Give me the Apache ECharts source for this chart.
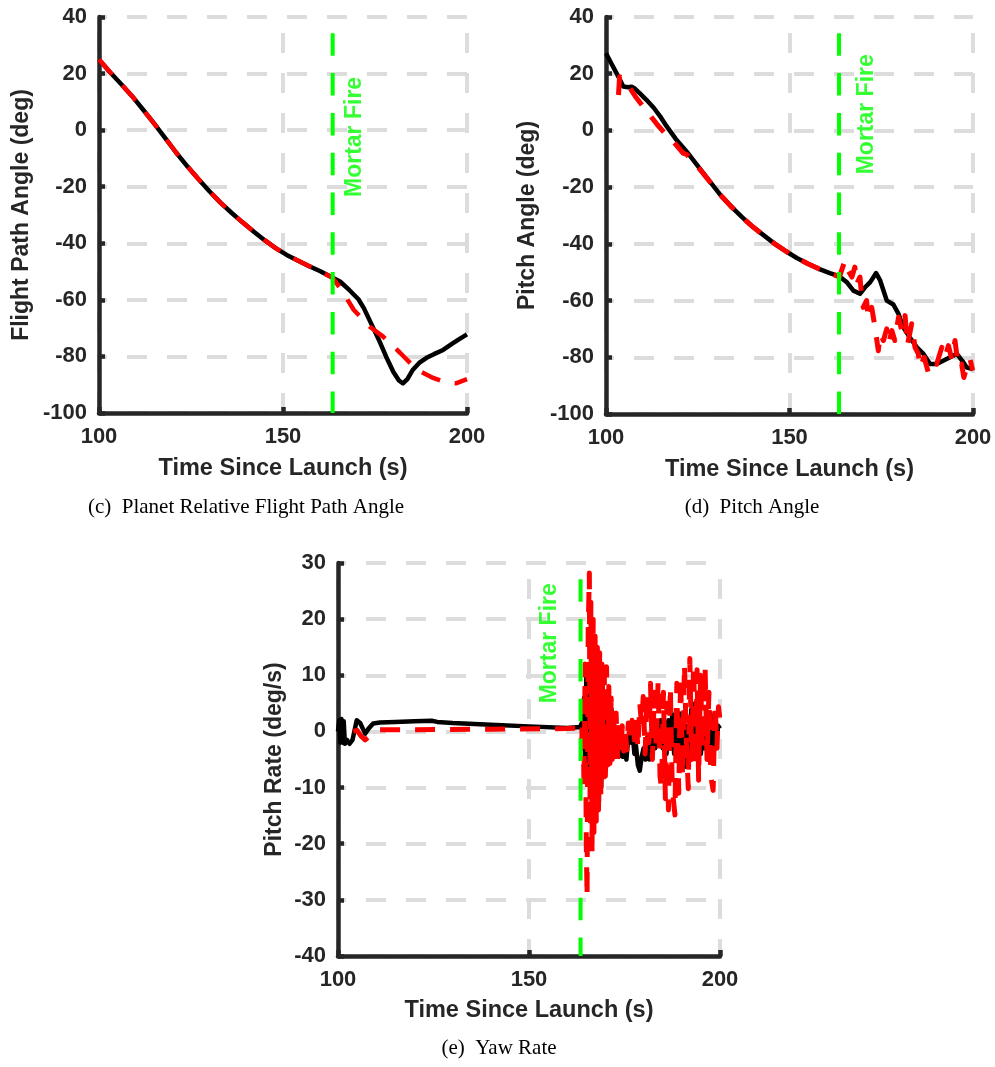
<!DOCTYPE html>
<html>
<head>
<meta charset="utf-8">
<script src="https://cdn.jsdelivr.net/npm/echarts@6/dist/echarts.min.js"></script>
<style>
html,body{margin:0;padding:0;background:#fff;}
#chart{width:995px;height:1067px;}
</style>
</head>
<body>
<div id="chart"></div>
<script>
// ---------- DATA ----------
const mortarFireTime = 163.5;
const xTicks = [100, 150, 200];

// (c) Planet Relative Flight Path Angle
const cSim = [[100,25],[103,20.5],[106,16.3],[109,12],[112,7.2],[115,2.3],[118,-2.8],[121,-8],[124,-12.8],[127,-17.3],[130,-21.6],[133,-25.6],[136,-29.2],[139,-32.6],[142,-35.8],[145,-38.9],[148,-41.7],[151,-44.1],[154,-46.1],[157,-48],[160,-49.8],[163.5,-52.2],[165.5,-53.5],[168,-56.5],[170.5,-59.8],[172,-63],[174,-68.5],[176,-74],[178,-80],[180,-85.5],[181.5,-88.5],[182.6,-89.5],[183.8,-88],[185.3,-84.7],[187,-82.3],[189,-80.5],[191,-79.2],[193.5,-77.7],[196,-75.5],[198,-73.8],[200,-72.2]];
const cRef = [[100,25],[103,20.5],[106,16.3],[109,12],[112,7.2],[115,2.3],[118,-2.8],[121,-8],[124,-12.8],[127,-17.3],[130,-21.6],[133,-25.6],[136,-29.2],[139,-32.6],[142,-35.8],[145,-38.9],[148,-41.7],[151,-44.1],[154,-46.1],[157,-48],[160,-49.8],[163.5,-52.2],[166.4,-57.5],[169.2,-63.5],[173.6,-69.5],[177.2,-73],[181.8,-78.7],[186.4,-84.7],[190.8,-87.6],[194.6,-89.4],[197,-89.5],[200,-88]];

// (d) Pitch Angle
const dSim = [[100,27.2],[101.5,23.5],[103.4,18.9],[104.7,15.5],[106,15.2],[107,15.4],[108,14.6],[109.3,13],[111,10.8],[113,8],[115,4.5],[116.5,1.5],[119,-3],[122,-7.5],[125,-12.5],[128,-17.5],[131,-22.5],[134,-26.7],[137,-30.5],[140,-34],[143,-37],[146,-40],[149,-42.6],[152,-45],[155,-47],[158,-48.8],[161,-50.3],[163.6,-51.5],[165.6,-53.5],[167.4,-56.5],[169.2,-57.6],[170.6,-55.3],[172,-53.5],[173.6,-50.3],[174.7,-52.9],[176.5,-60],[178.3,-61.4],[179.7,-64.7],[181,-69.4],[182.8,-73],[184.7,-76.5],[186.5,-78.8],[188.3,-82.4],[190.1,-82.4],[192.8,-80.6],[195.6,-78.8],[197.4,-81.8],[198.3,-83.6],[200,-84.2]];
const dRef = [[103.4,12.5],[103.7,18.9],[104.8,18.5],[106,16],[108,12],[110.2,8.3],[112,5.3],[114,2],[116,-1],[118.4,-4],[121,-8],[122,-8.5],[125,-12.8],[128,-17.6],[131,-22.5],[134,-26.7],[137,-30.5],[140,-34],[143,-37],[146,-40],[149,-42.6],[152,-45],[155,-47],[158,-48.8],[161,-50.3],[163.6,-51.7],[165.1,-45.9],[166,-49.4],[167,-51.7],[167.8,-48.2],[168.3,-54.1],[169.2,-51.7],[169.6,-57.6],[170.1,-62.4],[171,-60],[171.5,-66.5],[172.4,-62.4],[173.3,-69.4],[174.2,-77.7],[174.7,-71.8],[175.6,-74.1],[176.5,-70],[177,-75.3],[177.9,-70.6],[178.7,-74.1],[179.7,-65.9],[180.6,-70.6],[181.5,-65.3],[182.1,-75.9],[183.3,-68.2],[184.2,-76.5],[185.1,-78.8],[185.6,-83.6],[186.7,-80],[187.8,-85.3],[188.7,-81.8],[190.1,-82.4],[191.5,-76.5],[192.4,-80],[193.3,-75.9],[194.2,-80.6],[195.1,-74.1],[196,-83.6],[196.9,-82.4],[197.5,-87.1],[198.3,-83.6],[199.2,-80.6],[199.9,-84.7]];

// (e) Yaw Rate
const eSim = [[100,0],[100.3,2],[100.6,-2],[100.9,2.2],[101.2,-2],[101.5,1.8],[101.8,-2.2],[102.3,-1.5],[103,-2.2],[103.8,-1.5],[104.9,2],[105.8,1.5],[107.1,-0.4],[108,0.5],[109.2,1.4],[111,1.6],[115,1.7],[120,1.8],[124.5,1.9],[126,1.7],[130,1.5],[140,1.2],[150,0.9],[160,0.6],[163.4,0.8],[163.8,1.5],[164.1,-3],[164.4,6],[164.7,-6],[165,9.5],[165.3,-8],[165.6,10],[165.9,-9],[166.2,9],[166.5,-10],[166.8,8],[167.1,-11],[167.4,8.5],[167.7,-9],[168,9],[168.3,-12.5],[168.6,7],[168.9,-10],[169.2,9.5],[169.5,-8],[169.8,7],[170.1,-7],[170.4,6],[170.7,-5],[171,5],[171.3,-4],[171.6,4],[171.9,-3.5],[172.2,2],[172.6,-3],[173,-1],[173.5,-4.5],[174,-2],[174.5,-4.5],[175,-3],[175.5,-5],[176,-1],[176.4,0.5],[176.8,-2],[177.2,-1],[177.6,-4],[178,-2.5],[178.5,-6],[179,-7],[179.5,-4.5],[180,-3],[180.5,-5],[181,-1],[181.5,-5],[182,-2],[182.5,0.5],[183,-3],[183.5,1],[184,-2],[184.5,2],[185,-3],[185.5,1.5],[186,-4],[186.5,2],[187,-3],[187.5,3],[188,-4],[188.5,3.5],[189,-3],[189.5,3.2],[190,-5],[190.5,2],[191,-6.3],[191.5,1],[192,-5],[192.5,4],[193,-2],[193.5,5],[194,-1],[194.5,3],[195,-4],[195.5,2],[196,-3],[196.5,3.5],[197,-2],[197.5,3.2],[198,-4],[198.5,2],[199,-2.5],[199.5,1],[200,0.5]];
const eRef = [[104,0],[105,0.2],[106,-0.8],[107.1,-1.5],[108,-1],[109.5,0],[111,0.3],[120,0.3],[140,0.4],[160,0.5],[163.4,0.6],[163.8,-2],[164.1,5],[164.4,-10],[164.7,12],[165,-20],[165.2,-29.5],[165.5,18],[165.8,28.2],[166,-16],[166.2,23],[166.5,-22],[166.8,20],[167,-18],[167.3,17],[167.6,-16],[167.9,15],[168.2,-14],[168.5,14],[168.8,-12],[169.1,12],[169.4,-9],[169.7,11],[170,-8],[170.3,11.5],[170.6,-6],[170.9,8],[171.2,-5.7],[171.5,6],[171.8,-5],[172.1,4],[172.4,-4.5],[172.8,3.3],[173.2,-5],[173.6,2],[174,-4],[174.4,1],[174.8,-3.5],[175.2,0.5],[175.6,-3.3],[176,1.5],[176.5,-2],[177,2],[177.5,-1.5],[178,3],[178.5,-3],[179,5],[179.5,1],[179.9,6.2],[180.4,-4],[180.9,7],[181.4,-2],[181.8,8.6],[182.3,-5],[182.8,7],[183.3,-3],[183.8,9],[184.3,-8],[184.7,-10.2],[185.2,7],[185.7,-12],[186.1,5],[186.5,-14],[187,8],[187.5,-10],[188.2,-14.9],[188.7,8.6],[189.2,-11],[189.7,10],[190.2,-8],[190.7,12],[191.2,-2],[191.7,-10.2],[192.1,13],[192.6,-5],[193.1,12],[193.6,-6],[194,11],[194.4,-8.7],[194.9,10],[195.4,-3],[196.1,11.3],[196.6,-5],[197.1,7],[197.6,-8],[198.2,-10.5],[198.7,5],[199.2,-3],[199.6,4.4],[200,2]];

// axis ranges / labels
const cdYRange = [-100, 40, 20];
const eYRange = [-40, 30, 10];
const xTitle = 'Time Since Launch (s)';
const yTitles = ['Flight Path Angle (deg)', 'Pitch Angle (deg)', 'Pitch Rate (deg/s)'];
const captions = ['(c)  Planet Relative Flight Path Angle', '(d)  Pitch Angle', '(e)  Yaw Rate'];
const mortarLabel = 'Mortar Fire';
// label anchor points (data coords) for "Mortar Fire"
const mortarTextPos = [[169.6, -2.4], [171.1, 5.7], [155.5, 15.7]];

// ---------- STYLE ----------
const AX = '#262626';
const FONT = 'Liberation Sans, Arial, Helvetica, sans-serif';
const SERIF = 'Liberation Serif, Times New Roman, serif';
const GRIDC = '#dcdcdc';

const grids = [
  {left: 99, top: 17, width: 368, height: 396},
  {left: 606, top: 17, width: 367, height: 397},
  {left: 338, top: 563, width: 382, height: 393}
];
const yNameGaps = [65.5, 66.5, 51.5];
const xNameGaps = [43.5, 43.5, 42.5];

function xAxisFor(i) {
  return {
    gridIndex: i, type: 'value', min: xTicks[0], max: xTicks[2], interval: 50,
    name: xTitle, nameLocation: 'middle', nameGap: xNameGaps[i],
    nameTextStyle: {fontFamily: FONT, fontWeight: 'bold', fontSize: 23.5, color: AX},
    axisLine: {show: true, onZero: false, lineStyle: {color: AX, width: 4.5}},
    axisTick: {show: true, inside: true, length: 6, lineStyle: {color: AX, width: 4.5}},
    axisLabel: {fontFamily: FONT, fontWeight: 'bold', fontSize: 22, color: AX, margin: 13},
    splitLine: {show: true, lineStyle: {color: GRIDC, width: 4, type: [20, 20], dashOffset: 24}}
  };
}
function yAxisFor(i, r) {
  return {
    gridIndex: i, type: 'value', min: r[0], max: r[1], interval: r[2],
    name: yTitles[i], nameLocation: 'middle', nameGap: yNameGaps[i],
    nameTextStyle: {fontFamily: FONT, fontWeight: 'bold', fontSize: 23, color: AX},
    axisLine: {show: true, onZero: false, lineStyle: {color: AX, width: 4.5}},
    axisTick: {show: true, inside: true, length: 6, lineStyle: {color: AX, width: 4.5}},
    axisLabel: {fontFamily: FONT, fontWeight: 'bold', fontSize: 22, color: AX, margin: 12},
    splitLine: {show: true, lineStyle: {color: GRIDC, width: 4, type: [20, 20], dashOffset: 12}}
  };
}

function lineSeries(i, data, color, dashed, width) {
  return {
    type: 'line', xAxisIndex: i, yAxisIndex: i, data: data, symbol: 'none',
    showSymbol: false, z: dashed ? 3 : 2, clip: true,
    lineStyle: {color: color, width: width, type: dashed ? [20, 15] : 'solid', join: 'round'}
  };
}
function mortarLine(i, r) {
  return {
    type: 'line', xAxisIndex: i, yAxisIndex: i, symbol: 'none', z: 5,
    data: [[mortarFireTime, r[1]], [mortarFireTime, r[0]]],
    lineStyle: {color: '#00ff00', width: 4, type: [22.5, 17.3], dashOffset: 23.5}
  };
}
function mortarText(i) {
  return {
    type: 'scatter', xAxisIndex: i, yAxisIndex: i, symbolSize: 0, z: 6,
    data: [mortarTextPos[i]],
    label: {show: true, position: 'inside', formatter: mortarLabel, rotate: 90,
      fontFamily: FONT, fontWeight: 'bold', fontSize: 23, color: '#00ff00'}
  };
}

const captionPos = [[246, 507], [752, 507], [499, 1048]];
const graphics = captions.map((t, i) => ({
  type: 'text', x: captionPos[i][0], y: captionPos[i][1],
  style: {text: t, font: '21px ' + SERIF, fill: '#000', textAlign: 'center', textVerticalAlign: 'middle'}
}));

const option = {
  animation: false,
  backgroundColor: '#ffffff',
  grid: grids,
  xAxis: [xAxisFor(0), xAxisFor(1), xAxisFor(2)],
  yAxis: [yAxisFor(0, cdYRange), yAxisFor(1, cdYRange), yAxisFor(2, eYRange)],
  series: [
    lineSeries(0, cSim, '#000000', false, 4.5),
    lineSeries(0, cRef, '#ff0000', true, 4.5),
    mortarLine(0, cdYRange), mortarText(0),
    lineSeries(1, dSim, '#000000', false, 4.5),
    lineSeries(1, dRef, '#ff0000', true, 5),
    mortarLine(1, cdYRange), mortarText(1),
    lineSeries(2, eSim, '#000000', false, 4.5),
    lineSeries(2, eRef, '#ff0000', true, 5),
    mortarLine(2, eYRange), mortarText(2)
  ],
  graphic: graphics
};

const chart = echarts.init(document.getElementById('chart'), null, {renderer: 'canvas'});
chart.setOption(option);
</script>
</body>
</html>
